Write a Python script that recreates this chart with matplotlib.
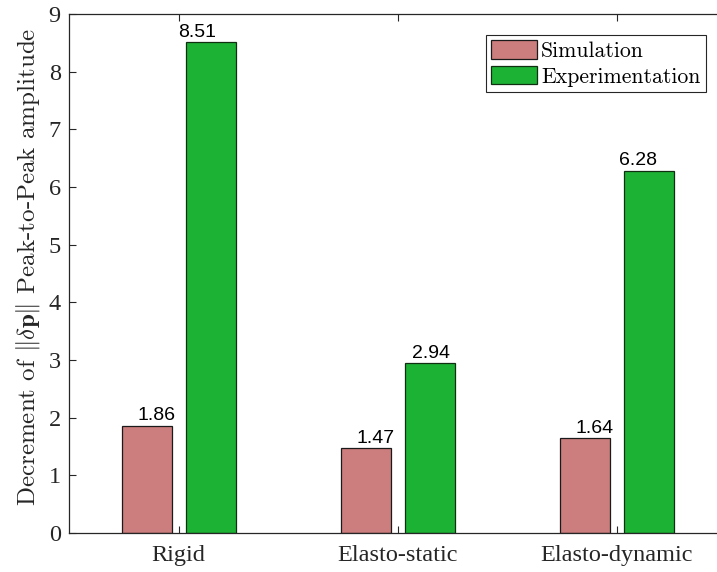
import matplotlib
matplotlib.use('Agg')
import numpy as np
import matplotlib.pyplot as plt

# data
categorias = ['Rigid', 'Elasto-static', 'Elasto-dynamic']
simulacao = [1.86, 1.47, 1.64]
experimento = [8.51, 2.94, 6.28]
nomes_series = ['Simulation', 'Experimentation']

COR_SIM = '#cc7d7d'
COR_EXP = '#1cb234'

# deslocamento horizontal dos rótulos (pontos), como no original
desl_sim = [7, 7, 7]
desl_exp = [-10, 1, -8]

plt.rcParams['font.family'] = ['Liberation Serif', 'DejaVu Serif']
plt.rcParams['mathtext.fontset'] = 'cm'
plt.rcParams['axes.unicode_minus'] = False

fig = plt.figure(figsize=(7.17, 5.72), dpi=100)
ax = fig.add_axes([0.0962, 0.0682, 0.9038, 0.9073])

x = np.arange(1, len(categorias) + 1)
largura = 0.228
desloc = 0.146

b1 = ax.bar(x - desloc, simulacao, largura, color=COR_SIM, edgecolor='#1a1a1a',
            linewidth=0.9, label=nomes_series[0])
b2 = ax.bar(x + desloc, experimento, largura, color=COR_EXP, edgecolor='#0f3010',
            linewidth=0.9, label=nomes_series[1])

# valores em cima das barras
for barras, vals, desl in ((b1, simulacao, desl_sim), (b2, experimento, desl_exp)):
    for b, v, d in zip(barras, vals, desl):
        ax.annotate(f'{v:.2f}', (b.get_x() + b.get_width() / 2, v),
                    xytext=(d, 1), textcoords='offset points',
                    ha='center', va='bottom', fontsize=14,
                    fontfamily='Liberation Sans', color='black')

ax.set_xlim(0.5, 3.457)
ax.set_ylim(0, 9)
ax.set_yticks(range(0, 10))
ax.set_xticks(x)
ax.set_xticklabels(categorias)

ax.tick_params(direction='in', length=5, width=0.8, top=True, right=False,
               color='#262626', labelcolor='#262626', labelsize=17.5, pad=6)
ax.tick_params(axis='x', pad=9)
ax.spines['right'].set_visible(False)
for s in ('left', 'bottom', 'top'):
    ax.spines[s].set_color('#262626')
    ax.spines[s].set_linewidth(0.9)

ax.set_ylabel(r'Decrement of $\|\delta\mathbf{p}\|$ Peak-to-Peak amplitude',
              fontfamily='cmr10', fontsize=18, color='#262626')
ax.yaxis.set_label_coords(-0.042, 0.512)

leg = ax.legend(loc='upper right', bbox_to_anchor=(0.983, 0.9595),
                borderaxespad=0, prop={'family': 'cmr10', 'size': 15.7},
                fancybox=False, framealpha=1, edgecolor='#262626',
                handlelength=2.1, handleheight=0.92, handletextpad=0.2,
                borderpad=0.25, labelspacing=0.22)
leg.get_frame().set_linewidth(0.8)

fig.savefig('out.png', dpi=100)
